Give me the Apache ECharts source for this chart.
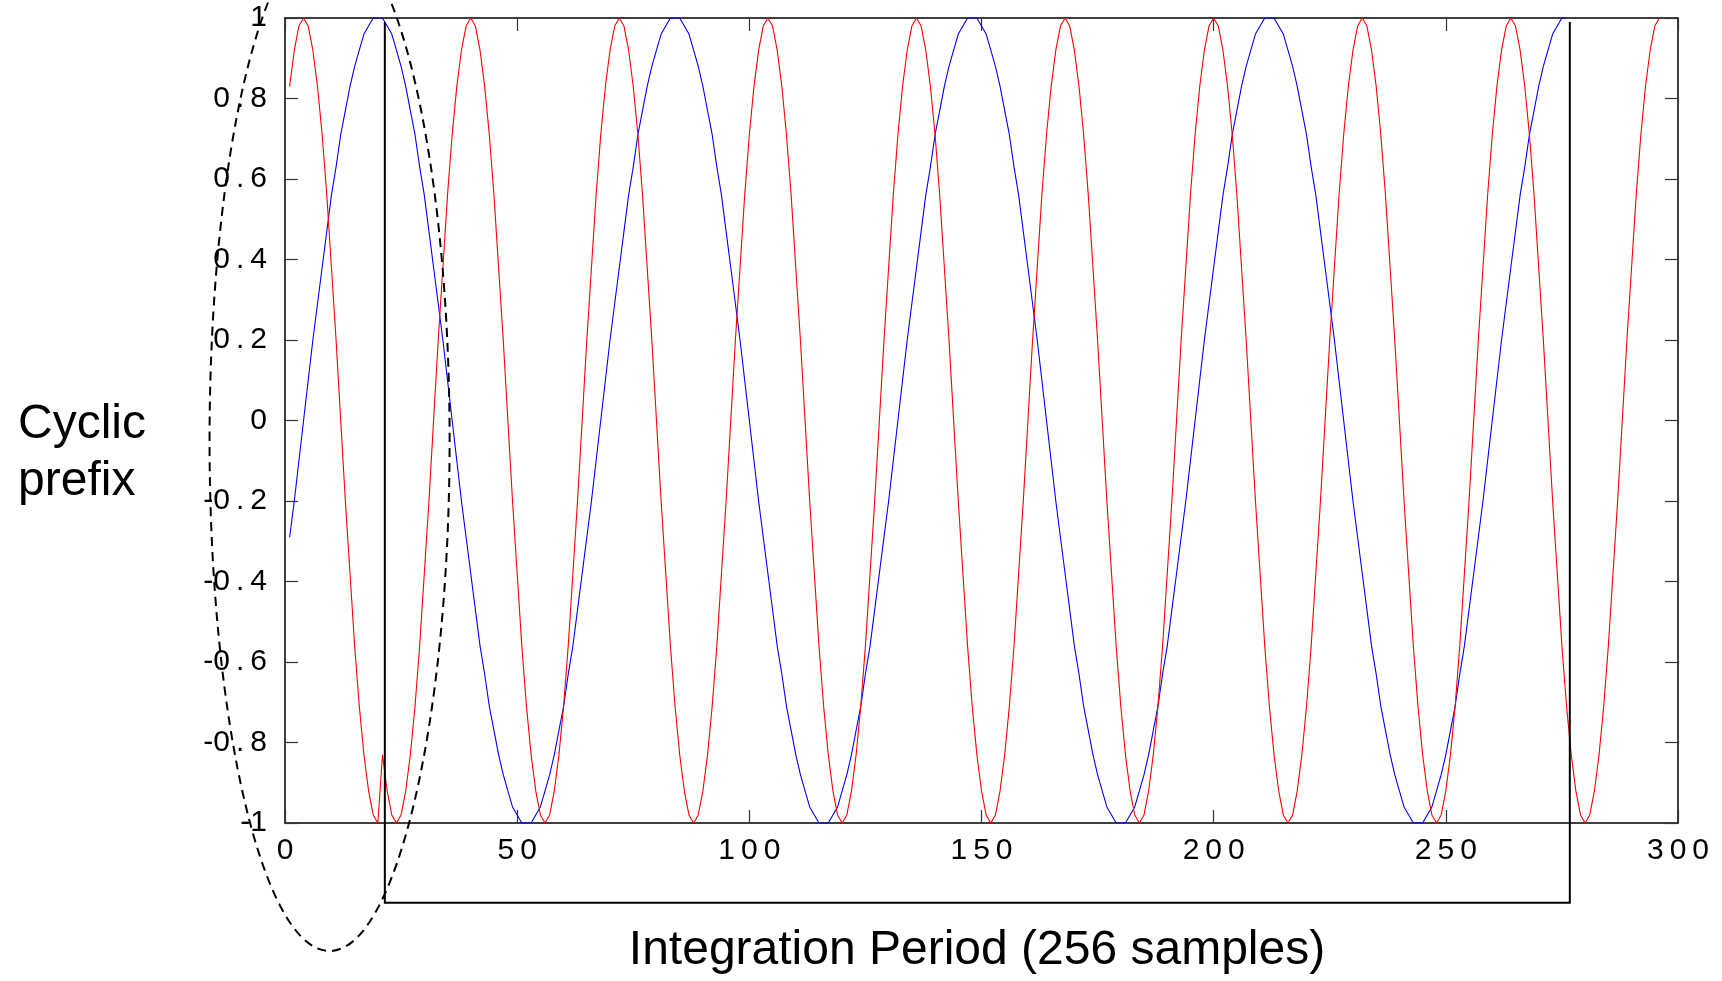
<!DOCTYPE html>
<html>
<head>
<meta charset="utf-8">
<script src="https://cdn.jsdelivr.net/npm/echarts@6/dist/echarts.min.js"></script>
<style>
html, body { margin: 0; padding: 0; background: #ffffff; }
#chart { width: 1722px; height: 981px; }
</style>
</head>
<body>
<div id="chart"></div>
<script>
// ---------------- data ----------------
// sample index of the first value in each series
const firstSample = 1;

// red signal, samples 1..296
const redValues = [
  0.83, 0.92, 0.98, 1, 0.98, 0.92, 0.83, 0.71, 0.56, 0.38, 0.2, 0, -0.2, -0.38, -0.56, -0.71, -0.83, -0.92, -0.98, -1,
  -0.83, -0.92, -0.98, -1,
  -0.98, -0.92, -0.83, -0.71, -0.56, -0.38, -0.2, 0, 0.2, 0.38, 0.56, 0.71, 0.83, 0.92, 0.98, 1,
  0.98, 0.92, 0.83, 0.71, 0.56, 0.38, 0.2, 0, -0.2, -0.38, -0.56, -0.71, -0.83, -0.92, -0.98, -1,
  -0.98, -0.92, -0.83, -0.71, -0.56, -0.38, -0.2, 0, 0.2, 0.38, 0.56, 0.71, 0.83, 0.92, 0.98, 1,
  0.98, 0.92, 0.83, 0.71, 0.56, 0.38, 0.2, 0, -0.2, -0.38, -0.56, -0.71, -0.83, -0.92, -0.98, -1,
  -0.98, -0.92, -0.83, -0.71, -0.56, -0.38, -0.2, 0, 0.2, 0.38, 0.56, 0.71, 0.83, 0.92, 0.98, 1,
  0.98, 0.92, 0.83, 0.71, 0.56, 0.38, 0.2, 0, -0.2, -0.38, -0.56, -0.71, -0.83, -0.92, -0.98, -1,
  -0.98, -0.92, -0.83, -0.71, -0.56, -0.38, -0.2, 0, 0.2, 0.38, 0.56, 0.71, 0.83, 0.92, 0.98, 1,
  0.98, 0.92, 0.83, 0.71, 0.56, 0.38, 0.2, 0, -0.2, -0.38, -0.56, -0.71, -0.83, -0.92, -0.98, -1,
  -0.98, -0.92, -0.83, -0.71, -0.56, -0.38, -0.2, 0, 0.2, 0.38, 0.56, 0.71, 0.83, 0.92, 0.98, 1,
  0.98, 0.92, 0.83, 0.71, 0.56, 0.38, 0.2, 0, -0.2, -0.38, -0.56, -0.71, -0.83, -0.92, -0.98, -1,
  -0.98, -0.92, -0.83, -0.71, -0.56, -0.38, -0.2, 0, 0.2, 0.38, 0.56, 0.71, 0.83, 0.92, 0.98, 1,
  0.98, 0.92, 0.83, 0.71, 0.56, 0.38, 0.2, 0, -0.2, -0.38, -0.56, -0.71, -0.83, -0.92, -0.98, -1,
  -0.98, -0.92, -0.83, -0.71, -0.56, -0.38, -0.2, 0, 0.2, 0.38, 0.56, 0.71, 0.83, 0.92, 0.98, 1,
  0.98, 0.92, 0.83, 0.71, 0.56, 0.38, 0.2, 0, -0.2, -0.38, -0.56, -0.71, -0.83, -0.92, -0.98, -1,
  -0.98, -0.92, -0.83, -0.71, -0.56, -0.38, -0.2, 0, 0.2, 0.38, 0.56, 0.71, 0.83, 0.92, 0.98, 1,
  0.98, 0.92, 0.83, 0.71, 0.56, 0.38, 0.2, 0, -0.2, -0.38, -0.56, -0.71, -0.83, -0.92, -0.98, -1,
  -0.98, -0.92, -0.83, -0.71, -0.56, -0.38, -0.2, 0, 0.2, 0.38, 0.56, 0.71, 0.83, 0.92, 0.98, 1
];

// blue signal, samples 1..276
const blueValues = [
  -0.29, -0.2, -0.1, 0, 0.1, 0.2, 0.29, 0.38, 0.47, 0.56, 0.63, 0.71, 0.77, 0.83, 0.88, 0.92, 0.96, 0.98, 1, 1,
  1, 0.98, 0.96, 0.92, 0.88, 0.83, 0.77, 0.71, 0.63, 0.56, 0.47, 0.38, 0.29, 0.2, 0.1, 0,
  -0.1, -0.2, -0.29, -0.38, -0.47, -0.56, -0.63, -0.71, -0.77, -0.83, -0.88, -0.92, -0.96, -0.98, -1, -1,
  -1, -0.98, -0.96, -0.92, -0.88, -0.83, -0.77, -0.71, -0.63, -0.56, -0.47, -0.38, -0.29, -0.2, -0.1, 0,
  0.1, 0.2, 0.29, 0.38, 0.47, 0.56, 0.63, 0.71, 0.77, 0.83, 0.88, 0.92, 0.96, 0.98, 1, 1,
  1, 0.98, 0.96, 0.92, 0.88, 0.83, 0.77, 0.71, 0.63, 0.56, 0.47, 0.38, 0.29, 0.2, 0.1, 0,
  -0.1, -0.2, -0.29, -0.38, -0.47, -0.56, -0.63, -0.71, -0.77, -0.83, -0.88, -0.92, -0.96, -0.98, -1, -1,
  -1, -0.98, -0.96, -0.92, -0.88, -0.83, -0.77, -0.71, -0.63, -0.56, -0.47, -0.38, -0.29, -0.2, -0.1, 0,
  0.1, 0.2, 0.29, 0.38, 0.47, 0.56, 0.63, 0.71, 0.77, 0.83, 0.88, 0.92, 0.96, 0.98, 1, 1,
  1, 0.98, 0.96, 0.92, 0.88, 0.83, 0.77, 0.71, 0.63, 0.56, 0.47, 0.38, 0.29, 0.2, 0.1, 0,
  -0.1, -0.2, -0.29, -0.38, -0.47, -0.56, -0.63, -0.71, -0.77, -0.83, -0.88, -0.92, -0.96, -0.98, -1, -1,
  -1, -0.98, -0.96, -0.92, -0.88, -0.83, -0.77, -0.71, -0.63, -0.56, -0.47, -0.38, -0.29, -0.2, -0.1, 0,
  0.1, 0.2, 0.29, 0.38, 0.47, 0.56, 0.63, 0.71, 0.77, 0.83, 0.88, 0.92, 0.96, 0.98, 1, 1,
  1, 0.98, 0.96, 0.92, 0.88, 0.83, 0.77, 0.71, 0.63, 0.56, 0.47, 0.38, 0.29, 0.2, 0.1, 0,
  -0.1, -0.2, -0.29, -0.38, -0.47, -0.56, -0.63, -0.71, -0.77, -0.83, -0.88, -0.92, -0.96, -0.98, -1, -1,
  -1, -0.98, -0.96, -0.92, -0.88, -0.83, -0.77, -0.71, -0.63, -0.56, -0.47, -0.38, -0.29, -0.2, -0.1, 0,
  0.1, 0.2, 0.29, 0.38, 0.47, 0.56, 0.63, 0.71, 0.77, 0.83, 0.88, 0.92, 0.96, 0.98, 1, 1
];

// axes
const xRange = [0, 300];
const xStep = 50;
const yRange = [-1, 1];
const yStep = 0.2;

// annotation positions, in data units
const prefixEnd = 21.5;      // end of cyclic prefix (left bracket line)
const symbolEnd = 276.7;     // end of integration period (right bracket line)
const bracketTopY = 0.99;
const bracketBottomY = -1.198;
const ellipseCenter = [9.6, -0.05];
const ellipseRadius = [25.85, 1.268];

// texts
const sideLabelLines = ['Cyclic', 'prefix'];
const bottomLabel = 'Integration Period (256 samples)';

// ---------------- chart ----------------
const FONT = "'Liberation Sans', Arial, Helvetica, sans-serif";
const THIN = '\u2009';
const chart = echarts.init(document.getElementById('chart'), null, { renderer: 'canvas', width: 1722, height: 981 });

function xFmt(v) { return String(v).split('').join(THIN); }
function yFmt(v) {
  const r = Math.round(v * 10) / 10;
  let s = String(r);
  if (s.indexOf('.') >= 0) s = s.replace('.', THIN + '.' + THIN);
  return s;
}

const axisLine = { show: true, onZero: false, lineStyle: { color: '#000', width: 1.5 } };
const axisTick = { show: true, inside: true, length: 13, lineStyle: { color: '#333', width: 1.2 } };
const labelStyle = { color: '#000', fontSize: 30, fontFamily: FONT };

function toPairs(vals) { return vals.map((v, i) => [firstSample + i, v]); }

const option = {
  animation: false,
  backgroundColor: '#ffffff',
  grid: { left: 285, top: 18, width: 1393, height: 805, containLabel: false },
  xAxis: [
    { type: 'value', position: 'bottom', min: xRange[0], max: xRange[1], interval: xStep,
      axisLine, axisTick, splitLine: { show: false },
      axisLabel: Object.assign({ margin: 13, formatter: xFmt, showMinLabel: true, showMaxLabel: true }, labelStyle) },
    { type: 'value', position: 'top', min: xRange[0], max: xRange[1], interval: xStep,
      axisLine, axisTick, splitLine: { show: false }, axisLabel: { show: false } }
  ],
  yAxis: [
    { type: 'value', position: 'left', min: yRange[0], max: yRange[1], interval: yStep,
      axisLine, axisTick, splitLine: { show: false },
      axisLabel: Object.assign({ margin: 18, formatter: yFmt, showMinLabel: true, showMaxLabel: true }, labelStyle) },
    { type: 'value', position: 'right', min: yRange[0], max: yRange[1], interval: yStep,
      axisLine, axisTick, splitLine: { show: false }, axisLabel: { show: false } }
  ],
  series: [
    { name: 'blue', type: 'line', xAxisIndex: 0, yAxisIndex: 0, data: toPairs(blueValues),
      symbol: 'none', showSymbol: false, lineStyle: { color: '#0000ff', width: 1.1 }, itemStyle: { color: '#0000ff' }, z: 3 },
    { name: 'red', type: 'line', xAxisIndex: 0, yAxisIndex: 0, data: toPairs(redValues),
      symbol: 'none', showSymbol: false, lineStyle: { color: '#ff0000', width: 1.1 }, itemStyle: { color: '#ff0000' }, z: 4 }
  ]
};
chart.setOption(option);

const px = (x, y) => chart.convertToPixel({ seriesIndex: 0 }, [x, y]);
const c = px(ellipseCenter[0], ellipseCenter[1]);
const ex = px(ellipseCenter[0] + ellipseRadius[0], ellipseCenter[1]);
const ey = px(ellipseCenter[0], ellipseCenter[1] + ellipseRadius[1]);
const bL = px(prefixEnd, bracketTopY);
const bR = px(symbolEnd, bracketTopY);
const bB = px(prefixEnd, bracketBottomY);

chart.setOption({
  graphic: [
    { type: 'polyline', silent: true, z: 50,
      shape: { points: [[bL[0], bL[1]], [bL[0], bB[1]], [bR[0], bB[1]], [bR[0], bR[1]]] },
      style: { stroke: '#000', lineWidth: 2, fill: null } },
    { type: 'ellipse', silent: true, z: 60,
      shape: { cx: c[0], cy: c[1], rx: Math.abs(ex[0] - c[0]), ry: Math.abs(c[1] - ey[1]) },
      style: { stroke: '#000', lineWidth: 2, fill: null, lineDash: [9, 6] } },
    { type: 'text', silent: true, z: 70, x: 18, y: 425,
      style: { text: sideLabelLines[0], font: '48px ' + FONT, fill: '#000', align: 'left', verticalAlign: 'middle' } },
    { type: 'text', silent: true, z: 70, x: 18, y: 482,
      style: { text: sideLabelLines[1], font: '48px ' + FONT, fill: '#000', align: 'left', verticalAlign: 'middle' } },
    { type: 'text', silent: true, z: 70, x: 977, y: 951,
      style: { text: bottomLabel, font: '48px ' + FONT, fill: '#000', align: 'center', verticalAlign: 'middle' } }
  ]
});
</script>
</body>
</html>
